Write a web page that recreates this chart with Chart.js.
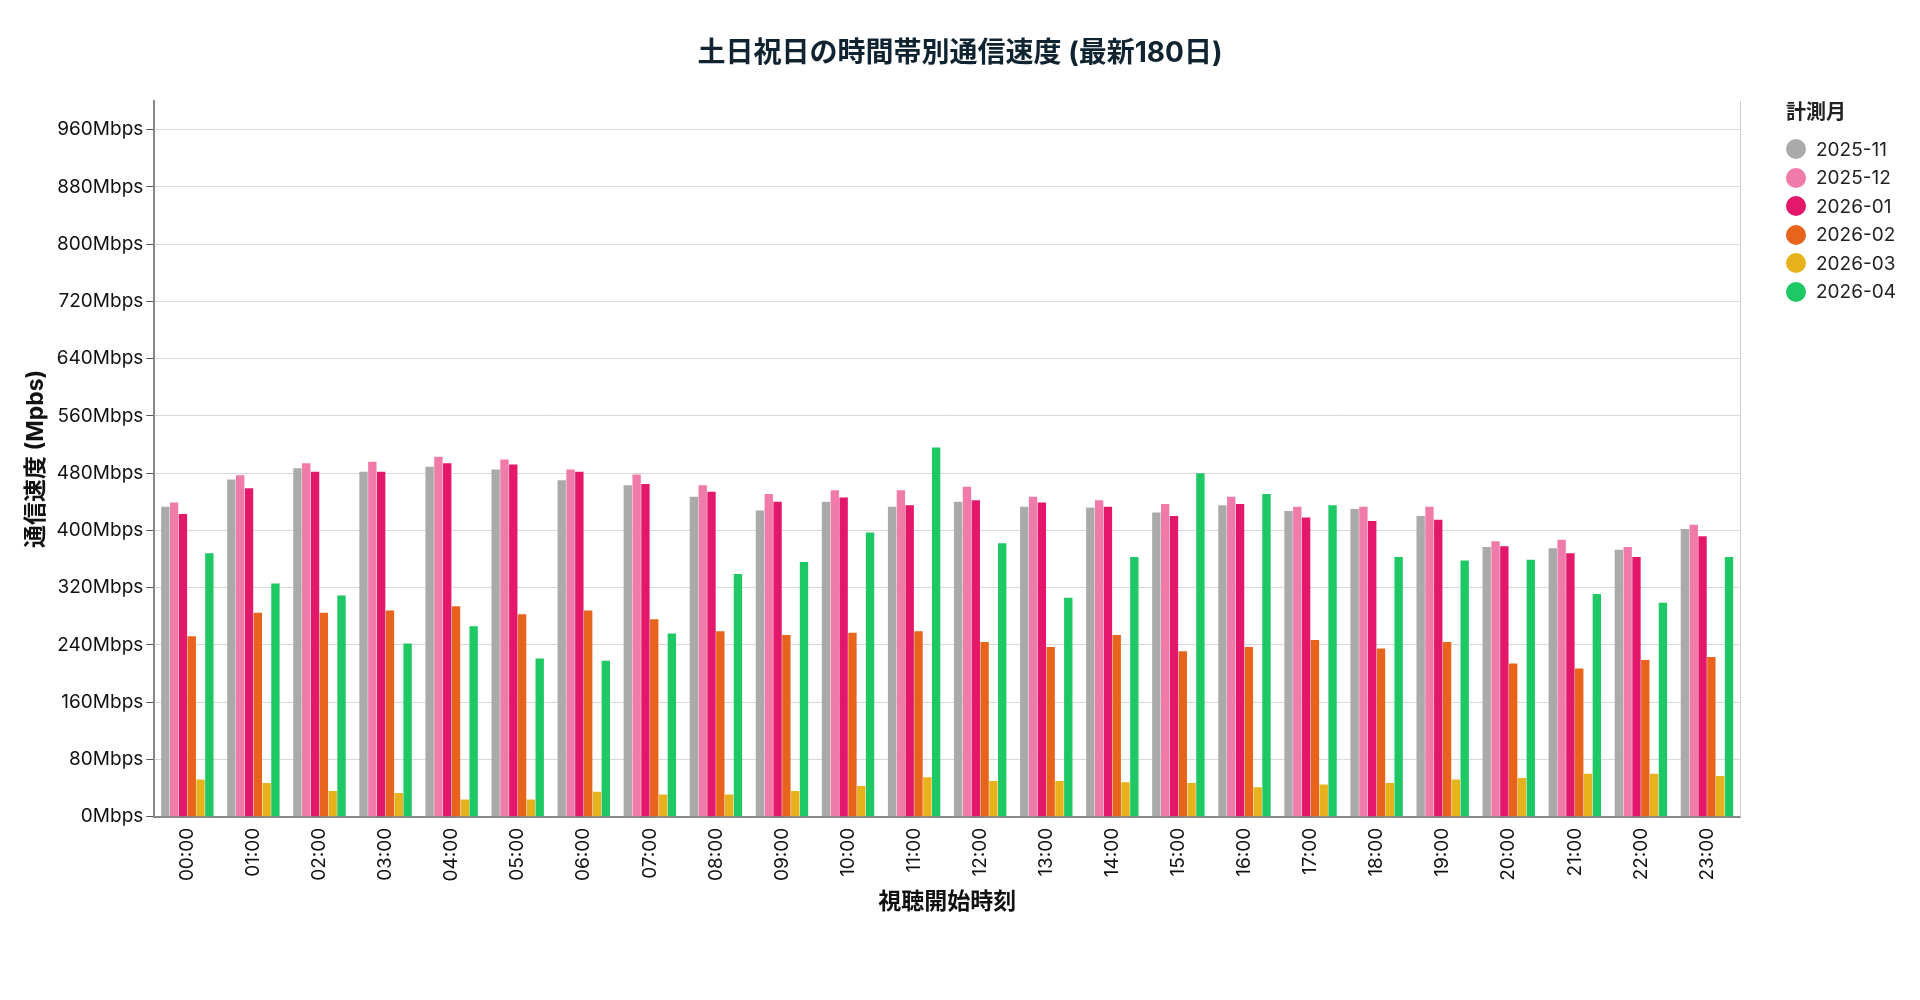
<!DOCTYPE html>
<html>
<head>
<meta charset="utf-8">
<script src="https://cdn.jsdelivr.net/npm/chart.js@4"></script>
<style>
  body { margin: 0; background: #fff; font-family: Inter, "Noto Sans CJK JP", sans-serif; }
  #wrap { position: relative; width: 1920px; height: 1000px; }
  #title { position: absolute; top: 30px; left: 0; width: 1920px; text-align: center; font-size: 28px; font-weight: bold; color: #0f2430; }
  #legend { position: absolute; left: 1786px; top: 96px; font-size: 19px; color: #222; }
  #legend .t { font-weight: bold; margin-bottom: 10px; font-size: 20px; }
  #legend .row { display: flex; align-items: center; height: 28.5px; }
  #legend .dot { width: 20px; height: 20px; border-radius: 50%; margin-right: 10px; }
</style>
</head>
<body>
<div id="wrap">
  <div id="title">土日祝日の時間帯別通信速度 (最新180日)</div>
  <canvas id="c" width="1920" height="1000"></canvas>
  <div id="legend"></div>
</div>
<script>
const hours = ["00:00","01:00","02:00","03:00","04:00","05:00","06:00","07:00","08:00","09:00","10:00","11:00",
  "12:00","13:00","14:00","15:00","16:00","17:00","18:00","19:00","20:00","21:00","22:00","23:00"];
const months = ["2025-11", "2025-12", "2026-01", "2026-02", "2026-03", "2026-04"];
const colors = ["#aaaaaa", "#f07aa8", "#e3186a", "#e8641c", "#e8b21c", "#1ec864"];

const nov = [433,471,487,482,489,485,470,463,447,428,440,433,440,433,432,425,435,427,430,420,377,375,373,402];
const dec = [439,477,494,496,503,499,485,478,463,451,456,456,461,447,442,437,447,433,433,433,385,387,377,408];
const jan = [423,459,482,482,494,492,482,465,454,440,446,435,442,439,433,420,437,418,413,415,378,368,363,392];
const feb = [252,285,285,288,294,283,288,276,259,254,257,259,244,237,254,231,237,247,235,244,214,207,219,223];
const mar = [52,47,36,33,24,24,35,31,31,36,43,55,50,50,48,47,41,45,47,52,54,60,60,57];
const apr = [368,326,309,242,266,221,218,256,339,356,397,516,382,306,363,480,451,435,363,358,359,311,299,363];
const series = [nov, dec, jan, feb, mar, apr];

const font = { family: "Inter, 'Noto Sans CJK JP', sans-serif" };

const legend = document.getElementById("legend");
legend.innerHTML = '<div class="t">計測月</div>' + months.map((m, i) =>
  `<div class="row"><div class="dot" style="background:${colors[i]}"></div>${m}</div>`).join("");

new Chart(document.getElementById("c"), {
  type: "bar",
  data: {
    labels: hours,
    datasets: series.map((d, i) => ({ label: months[i], data: d, backgroundColor: colors[i] })),
  },
  options: {
    responsive: false,
    animation: false,
    layout: { padding: { left: 18, right: 172, top: 101, bottom: 80 } },
    categoryPercentage: 0.8,
    barPercentage: 0.95,
    plugins: { legend: { display: false }, title: { display: false }, tooltip: { enabled: false } },
    scales: {
      x: {
        grid: { display: false },
        border: { color: "#888", width: 2 },
        ticks: { minRotation: 90, maxRotation: 90, color: "#111", font: { ...font, size: 19 } },
        title: { display: true, text: "視聴開始時刻", color: "#111", font: { ...font, size: 23, weight: "bold" }, padding: { top: 4 } },
      },
      y: {
        min: 0,
        max: 1000,
        afterBuildTicks: (ax) => { ax.ticks = ax.ticks.filter((t) => t.value % 80 === 0); },
        ticks: { stepSize: 80, color: "#111", font: { ...font, size: 19 }, callback: (v) => v + "Mbps" },
        grid: { color: "#d8d8d8", tickColor: "#555", tickLength: 8 },
        border: { color: "#888", width: 2 },
        title: { display: true, text: "通信速度 (Mpbs)", color: "#111", font: { ...font, size: 23, weight: "bold" } },
      },
      y2: {
        position: "right",
        min: 0,
        max: 1000,
        ticks: { display: false },
        grid: { display: false },
        border: { color: "#ccc" },
      },
    },
  },
});
</script>
</body>
</html>
